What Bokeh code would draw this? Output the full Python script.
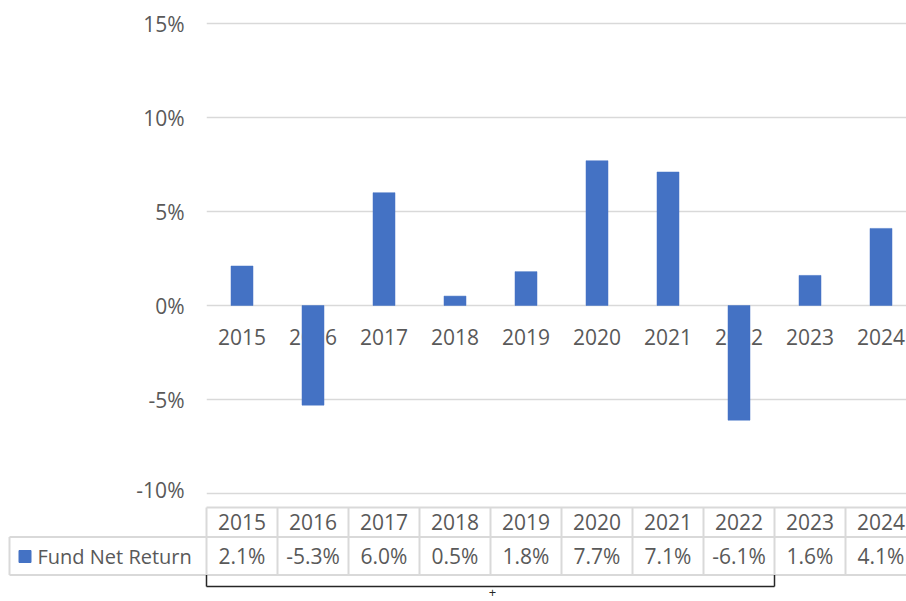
import numpy as np
from bokeh.plotting import figure
from bokeh.models import Range1d, FixedTicker, PrintfTickFormatter
from bokeh.layouts import column
from bokeh.core.properties import value
from bokeh.embed import file_html
from bokeh.resources import INLINE

# ---------------- data ----------------
years = ["2015", "2016", "2017", "2018", "2019", "2020", "2021", "2022", "2023", "2024"]
series_name = "Fund Net Return"
returns = [2.1, -5.3, 6.0, 0.5, 1.8, 7.7, 7.1, -6.1, 1.6, 4.1]
y_ticks = [-10, -5, 0, 5, 10, 15]

# ---------------- style / layout ----------------
FONT = "Open Sans"
TXT = "#595959"
BAR = "#4472C4"
GRID = "#d9d9d9"
FS = "21px"

W = 906          # figure width
LEFT = 206       # px left of the plot area
COL = 71.0       # px per category column
PPU = 94 / 5.0   # px per 1 %
TOP_H = 503
TOP_BORDER = 13
BOT_H = 98

n = len(years)
xs = np.arange(n) + 0.5
x_end = (W - LEFT) / COL
frame_h = TOP_H - TOP_BORDER
pad = (frame_h - (max(y_ticks) - min(y_ticks)) * PPU) / 2 / PPU

# ---------------- chart ----------------
top = figure(width=W, height=TOP_H,
             x_range=Range1d(0, x_end),
             y_range=Range1d(min(y_ticks) - pad, max(y_ticks) + pad),
             x_axis_type=None,
             output_backend="svg", toolbar_location=None,
             min_border_left=LEFT, min_border_right=0,
             min_border_top=TOP_BORDER, min_border_bottom=0,
             outline_line_color=None, background_fill_color="white",
             border_fill_color="white")
top.frame_align = False

ax = top.yaxis[0]
ax.ticker = FixedTicker(ticks=y_ticks)
ax.formatter = PrintfTickFormatter(format="%d%%")
ax.axis_line_color = None
ax.major_tick_line_color = None
ax.minor_tick_line_color = None
ax.major_tick_out = 0
ax.major_tick_in = 0
ax.major_label_standoff = 22
ax.major_label_text_font = FONT
ax.major_label_text_font_size = FS
ax.major_label_text_color = TXT

top.ygrid.ticker = FixedTicker(ticks=y_ticks)
top.ygrid.grid_line_color = GRID
top.ygrid.grid_line_width = 1.5

# category labels at the zero line (drawn below the bars)
top.text(x=xs, y=[0] * n, text=years, text_align="center", text_baseline="middle",
         y_offset=31, text_font=value(FONT), text_font_size=FS, text_color=TXT)

top.vbar(x=xs, bottom=0, top=returns, width=22 / COL,
         fill_color=BAR, line_color=BAR, line_width=0.5)

# ---------------- data table ----------------
bot = figure(width=W, height=BOT_H,
             x_range=Range1d(-LEFT / COL, x_end),
             y_range=Range1d(BOT_H, 0),
             x_axis_type=None, y_axis_type=None,
             output_backend="svg", toolbar_location=None,
             min_border=0, outline_line_color=None,
             background_fill_color="white", border_fill_color="white")
bot.frame_align = False

hdr_top, row_mid, row_bot = 4.0, 33.5, 71.5
tbl_left = -197 / COL

x0 = [0, tbl_left, tbl_left, tbl_left]
x1 = [x_end, x_end, x_end, tbl_left]
y0 = [hdr_top, row_mid, row_bot, row_mid]
y1 = [hdr_top, row_mid, row_bot, row_bot]
for i in range(n):
    x0.append(i); x1.append(i); y0.append(hdr_top); y1.append(row_bot)
bot.segment(x0=x0, y0=y0, x1=x1, y1=y1, line_color=GRID, line_width=2)

bot.text(x=xs, y=[(hdr_top + row_mid) / 2] * n, text=years,
         text_align="center", text_baseline="middle",
         text_font=value(FONT), text_font_size=FS, text_color=TXT)
bot.text(x=xs, y=[(row_mid + row_bot) / 2] * n, text=[f"{v:.1f}%" for v in returns],
         text_align="center", text_baseline="middle",
         text_font=value(FONT), text_font_size=FS, text_color=TXT)

bot.scatter(x=[(24.5 - LEFT) / COL], y=[53], marker="square", size=12,
            fill_color=BAR, line_color=BAR)
bot.text(x=[(37 - LEFT) / COL], y=[(row_mid + row_bot) / 2], text=[series_name],
         text_align="left", text_baseline="middle",
         text_font=value(FONT), text_font_size="20px", text_color=TXT)

# bracket below the table
br_y = 83
bot.segment(x0=[0, 0, 8], y0=[row_bot, br_y, row_bot], x1=[0, 8, 8], y1=[br_y, br_y, br_y],
            line_color="#262626", line_width=1.5)
bot.text(x=[(492 - LEFT) / COL], y=[89], text=["+"], text_align="center",
         text_baseline="middle", text_font=value(FONT), text_font_size="13px",
         text_color="#262626")

layout = column(top, bot, spacing=0)
open("out.html", "w").write(file_html(layout, INLINE))
